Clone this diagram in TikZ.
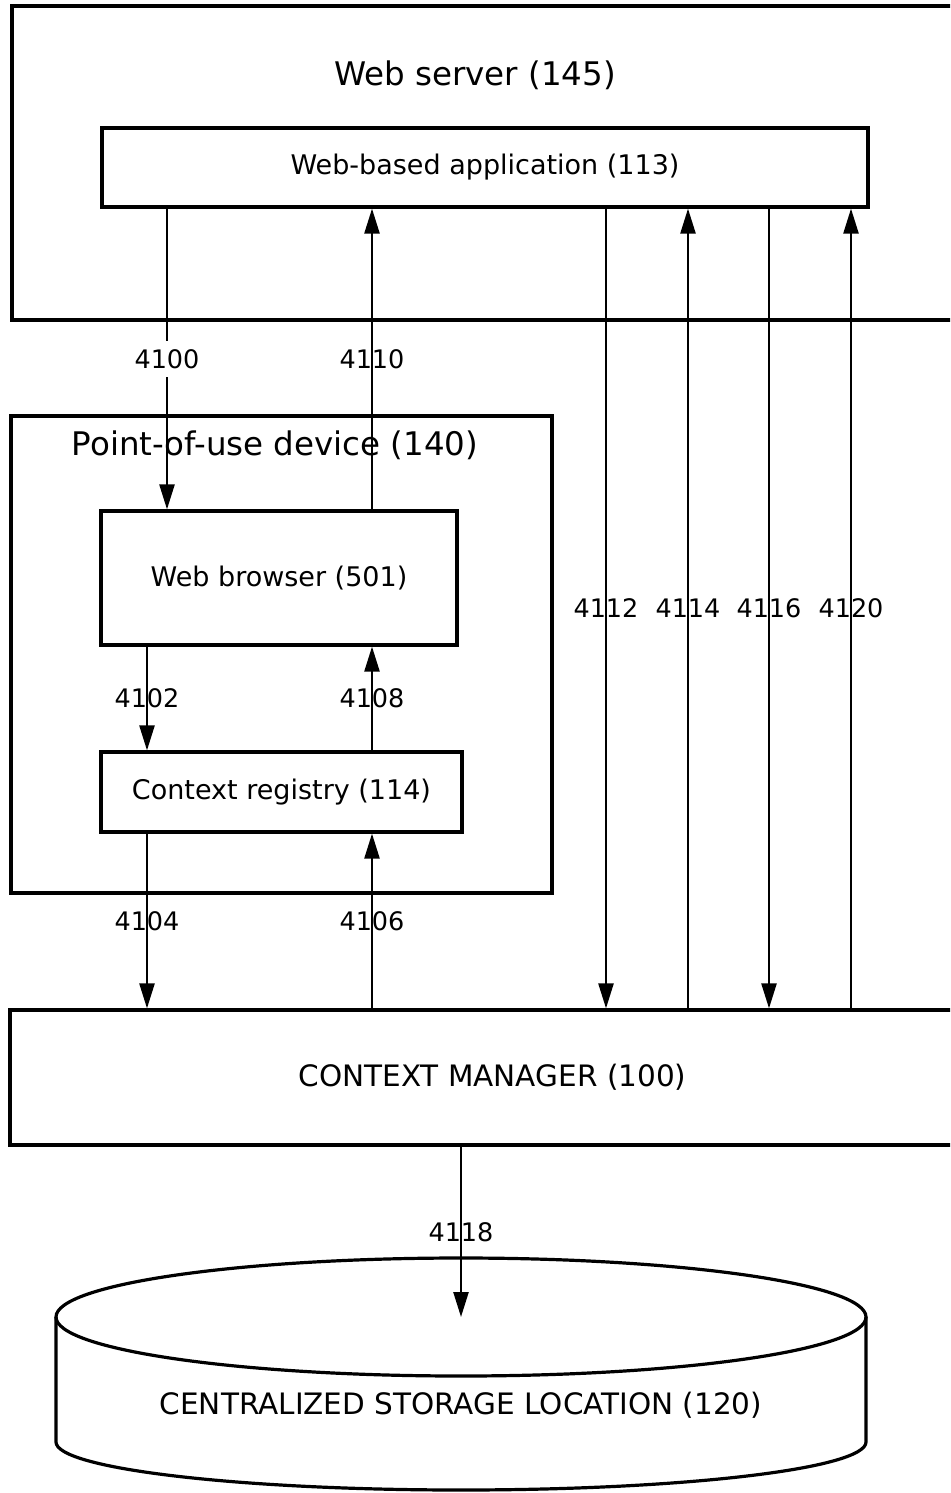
\documentclass[tikz,border=0pt]{standalone}
\usepackage{fontspec}
\setmainfont{DejaVu Sans}
\usetikzlibrary{arrows.meta}

\begin{document}
\begin{tikzpicture}[x=1pt,y=-1pt,>={Triangle[length=25pt,width=15pt]}]
  \tikzstyle{outline}=[draw=black,line width=3.2pt]
  \tikzstyle{box}=[rectangle,outline,inner sep=0pt]
  \tikzstyle{boxtext}=[font=\fontsize{27}{32}\selectfont]
  \tikzstyle{title}=[font=\fontsize{32.5}{38}\selectfont]
  \tikzstyle{caps}=[font=\fontsize{29.5}{34}\selectfont]
  \tikzstyle{num}=[font=\fontsize{25.5}{30}\selectfont,inner sep=1pt]
  \tikzstyle{flow}=[->,line width=2.4pt]

  \useasboundingbox (0,0) rectangle (950,1493);
  \clip (0,0) rectangle (950,1493);
  \fill[white] (0,0) rectangle (950,1493);

  % columns of the connectors
  \coordinate (colA) at (167,0);
  \coordinate (colB) at (372,0);
  \coordinate (colC) at (147,0);
  \coordinate (colD) at (606,0);
  \coordinate (colE) at (688,0);
  \coordinate (colF) at (769,0);
  \coordinate (colG) at (851,0);

  \node[box,minimum width=963,minimum height=314] (server) at (493.5,163) {};
  \node[title] (servername) at (475,75) {Web server (145)};
  \node[box,boxtext,minimum width=766,minimum height=79] (app) at (485,167.5) {Web-based application (113)};

  \node[box,minimum width=541,minimum height=477] (device) at (281.5,654.5) {};
  \node[title] (devicename) at (275,445) {Point-of-use device (140)};
  \node[box,boxtext,minimum width=356,minimum height=134] (browser) at (279,578) {Web browser (501)};
  \node[box,boxtext,minimum width=361,minimum height=80] (registry) at (281.5,792) {Context registry (114)};

  \node[box,caps,minimum width=965,minimum height=135] (manager) at (492.5,1077.5) {CONTEXT MANAGER (100)};

  % storage cylinder
  \coordinate (storetop) at (461,1317);
  \draw[outline] (storetop) ellipse [x radius=405pt, y radius=59pt];
  \draw[outline] (56,1317) -- (56,1442) arc [start angle=180, end angle=360, x radius=405pt, y radius=48pt] -- (866,1317);
  \node[caps] (store) at (461,1405) {CENTRALIZED STORAGE LOCATION (120)};

  \draw[flow] (colA |- app.south) -- node[num,fill=white,inner ysep=8pt] {4100} (colA |- browser.north);
  \draw[flow] (colB |- browser.north) -- node[num] {4110} (colB |- app.south);
  \draw[flow] (colC |- browser.south) -- node[num] {4102} (colC |- registry.north);
  \draw[flow] (colB |- registry.north) -- node[num] {4108} (colB |- browser.south);
  \draw[flow] (colC |- registry.south) -- node[num] {4104} (colC |- manager.north);
  \draw[flow] (colB |- manager.north) -- node[num] {4106} (colB |- registry.south);
  \draw[flow] (colD |- app.south) -- node[num] {4112} (colD |- manager.north);
  \draw[flow] (colE |- manager.north) -- node[num] {4114} (colE |- app.south);
  \draw[flow] (colF |- app.south) -- node[num] {4116} (colF |- manager.north);
  \draw[flow] (colG |- manager.north) -- node[num] {4120} (colG |- app.south);
  \draw[flow] (storetop |- manager.south) -- node[num] {4118} (storetop);
\end{tikzpicture}
\end{document}
